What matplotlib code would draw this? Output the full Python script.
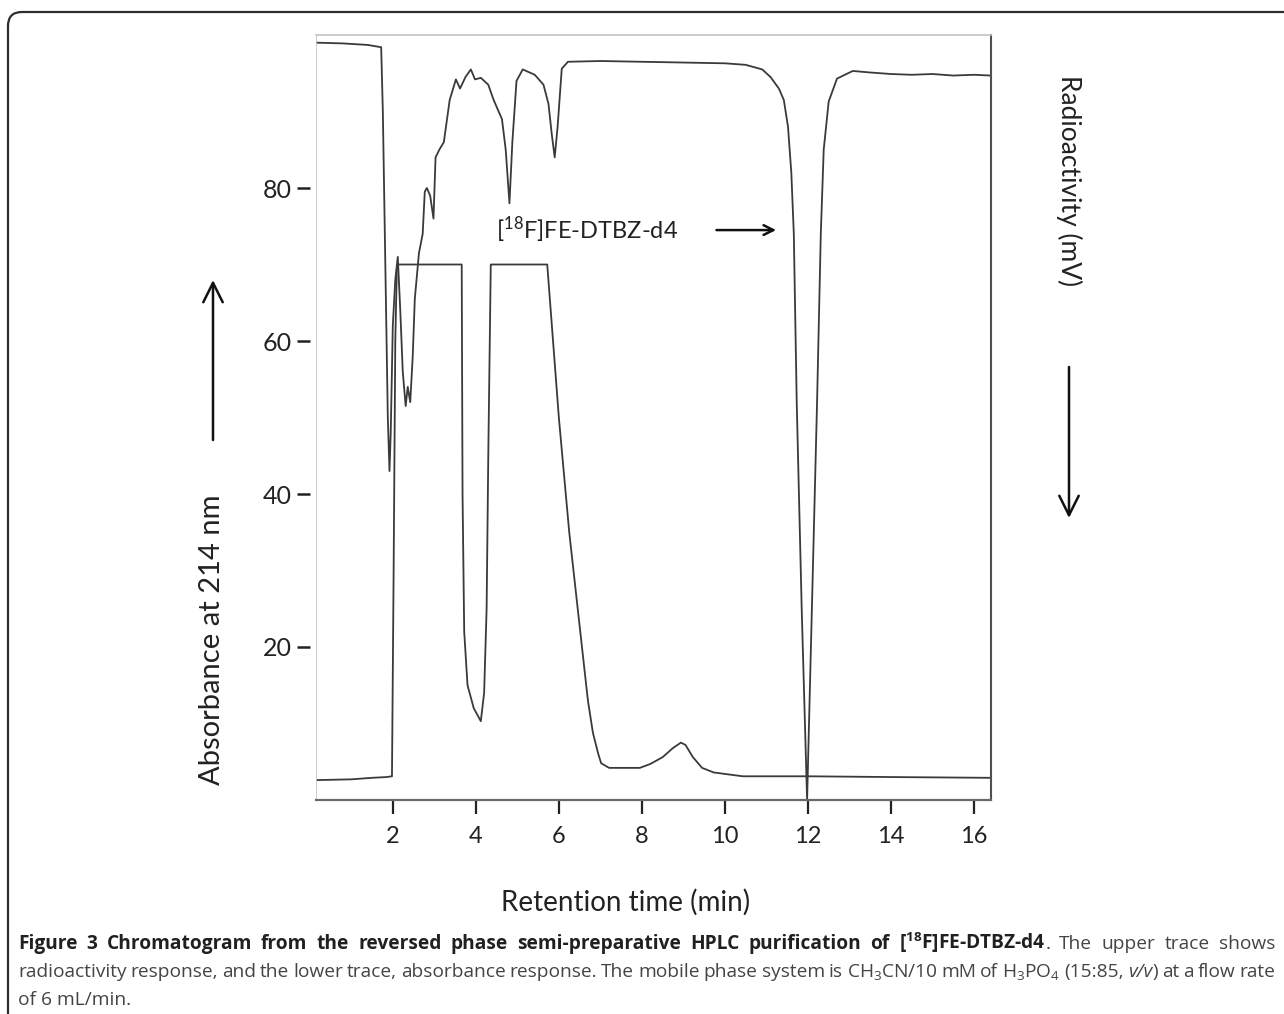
import matplotlib
matplotlib.use('Agg')
import matplotlib.pyplot as plt
from matplotlib.patches import FancyBboxPatch, FancyArrowPatch
from matplotlib.transforms import IdentityTransform

plt.rcParams['font.family'] = ['Lato', 'DejaVu Sans']
plt.rcParams['mathtext.fontset'] = 'custom'
plt.rcParams['mathtext.rm'] = 'Open Sans'
plt.rcParams['mathtext.it'] = 'Open Sans:italic'
plt.rcParams['mathtext.bf'] = 'Open Sans:bold'
plt.rcParams['mathtext.sf'] = 'Lato'

# upper trace: radioactivity (plotted on the same scale as the absorbance)
radio_t = [0.15, 0.8, 1.4, 1.72, 1.76, 1.82, 1.88, 1.92, 1.95, 2.0,
           2.06, 2.12, 2.18, 2.24, 2.31, 2.36, 2.42, 2.48, 2.53, 2.63,
           2.72, 2.77, 2.82, 2.9, 2.98, 3.03, 3.12, 3.23, 3.37, 3.52,
           3.62, 3.75, 3.88, 3.98, 4.12, 4.3, 4.43, 4.63, 4.72, 4.81,
           4.88, 4.98, 5.13, 5.42, 5.63, 5.75, 5.83, 5.9, 5.97, 6.07,
           6.22, 7.0, 8.0, 9.0, 10.0, 10.5, 10.9, 11.1, 11.3, 11.42,
           11.52, 11.6, 11.66, 11.73, 11.85, 11.98, 12.1, 12.22, 12.31, 12.38,
           12.5, 12.7, 13.08, 13.5, 14.0, 14.5, 15.0, 15.5, 16.0, 16.4]
radio_mv = [99.0, 98.9, 98.7, 98.4, 90, 70, 50, 43, 48, 62,
            68, 71, 64, 56, 51.5, 54, 52, 58, 65.5, 71.5,
            74, 79.5, 80, 79, 76, 84, 85, 86, 91.5, 94.2,
            93, 94.5, 95.5, 94.2, 94.4, 93.5, 91.5, 89, 85, 78,
            86, 94, 95.5, 94.8, 93.5, 91, 87, 84, 88, 95.6,
            96.5, 96.6, 96.5, 96.4, 96.3, 96.1, 95.5, 94.5, 93, 91.5,
            88, 82, 74, 52, 25, 0, 26, 52, 74, 85,
            91.3, 94.3, 95.3, 95.1, 94.9, 94.8, 94.9, 94.7, 94.8, 94.7]

# lower trace: absorbance at 214 nm
abs_t = [0.15, 1.0, 1.5, 1.85, 1.98, 2.02, 2.06, 2.1, 3.66, 3.68,
         3.72, 3.8, 3.95, 4.12, 4.2, 4.26, 4.3, 4.36, 5.72, 6.0,
         6.25, 6.52, 6.7, 6.82, 6.95, 7.02, 7.21, 7.6, 7.95, 8.2,
         8.5, 8.75, 8.94, 9.05, 9.23, 9.45, 9.73, 10.43, 12.0, 14.0,
         16.4]
abs_au = [2.6, 2.7, 2.9, 3.0, 3.1, 30, 60, 70, 70, 40,
          22, 15, 12, 10.3, 14, 25, 45, 70, 70, 50,
          35, 21.8, 13, 8.8, 6, 4.8, 4.2, 4.2, 4.2, 4.7,
          5.6, 6.8, 7.5, 7.2, 5.6, 4.2, 3.6, 3.1, 3.1, 3.0,
          2.9]

x_ticks = [2, 4, 6, 8, 10, 12, 14, 16]
y_ticks = [20, 40, 60, 80]

W, H = 1284, 1014
fig = plt.figure(figsize=(W / 100, H / 100), dpi=100)

# frame round the whole figure (runs off right and bottom edge)
frame = FancyBboxPatch((8, -30), 1320, H - 12 + 30,
                       boxstyle='round,pad=0,rounding_size=14',
                       transform=IdentityTransform(), fill=False,
                       ec='#2e2e2e', lw=1.6)
fig.add_artist(frame)

ax = fig.add_axes([316 / W, 1 - 800 / H, (991 - 316) / W, (800 - 35) / H])
trace = '#3a3a3a'
ax.plot(radio_t, radio_mv, color=trace, lw=1.3)
ax.plot(abs_t, abs_au, color=trace, lw=1.3)
ax.set_xlim(0.15, 16.41)
ax.set_ylim(0, 100)

ax.set_xticks(x_ticks)
ax.set_yticks(y_ticks)
ax.tick_params(axis='x', direction='out', length=10, width=1.6, pad=9,
               labelsize=17, colors='#222')
ax.tick_params(axis='y', direction='out', length=9.5, width=1.8, pad=4,
               labelsize=18, colors='#222')

ax.spines['left'].set_position(('outward', 4))
ax.spines['left'].set_visible(False)
ax.axvline(0.15, color='#c4c4c4', lw=1.2)
ax.spines['top'].set_color('#c4c4c4')
ax.spines['top'].set_linewidth(1.2)
ax.spines['right'].set_color('#505050')
ax.spines['right'].set_linewidth(1.5)
ax.spines['bottom'].set_color('#6a6a6a')
ax.spines['bottom'].set_linewidth(1.6)

# peak annotation
ax.text(4.48, 74.5, r'[$^{\mathsf{18}}$F]FE-DTBZ-d4', fontsize=17,
        va='center', ha='left', color='#222')
ax.annotate('', xy=(11.3, 74.5), xytext=(9.73, 74.5),
            arrowprops=dict(arrowstyle='->,head_length=0.7,head_width=0.35',
                            lw=1.8, color='#111'))

# axis titles and direction arrows
fig.text(212 / W, 1 - 640 / H, 'Absorbance at 214 nm', rotation=90,
         fontsize=21, ha='center', va='center', color='#222')
fig.text(626 / W, 1 - 902 / H, 'Retention time (min)', fontsize=20,
         ha='center', va='center', color='#222')
fig.text(1069 / W, 1 - 181 / H, 'Radioactivity (mV)', rotation=-90,
         fontsize=19, ha='center', va='center', color='#222')
for y0, y1 in [(440, 280), (367, 518)]:
    x = 213 if y1 < y0 else 1069
    fig.add_artist(FancyArrowPatch(
        (x / W, 1 - y0 / H), (x / W, 1 - y1 / H), transform=fig.transFigure,
        arrowstyle='->,head_length=0.7,head_width=0.35', mutation_scale=20,
        lw=1.8, color='#111', shrinkA=0, shrinkB=0))

# caption, justified word by word
cap_font = ['Open Sans', 'DejaVu Sans']
B = {'fontweight': 'bold', 'color': '#231f20'}
N = {'color': '#444444'}
I = {'fontstyle': 'italic', 'color': '#444444'}

line1 = [[('Figure', B)], [('3', B)], [('Chromatogram', B)], [('from', B)],
         [('the', B)], [('reversed', B)], [('phase', B)],
         [('semi-preparative', B)], [('HPLC', B)], [('purification', B)],
         [('of', B)], [(r'[$^{\mathbf{18}}$F]FE-DTBZ-d4', B), ('.', N)],
         [('The', N)], [('upper', N)], [('trace', N)], [('shows', N)]]
line2 = [[('radioactivity', N)], [('response,', N)], [('and', N)], [('the', N)],
         [('lower', N)], [('trace,', N)], [('absorbance', N)],
         [('response.', N)], [('The', N)], [('mobile', N)], [('phase', N)],
         [('system', N)], [('is', N)], [(r'CH$_{\mathrm{3}}$CN/10', N)],
         [('mM', N)], [('of', N)], [(r'H$_{\mathrm{3}}$PO$_{\mathrm{4}}$', N)],
         [('(15:85,', N)], [('v/v', I), (')', N)], [('at', N)], [('a', N)],
         [('flow', N)], [('rate', N)]]

renderer = fig.canvas.get_renderer()


def put_line(words, y, x0, x1, size):
    items = []
    for word in words:
        segs = []
        for s, kw in word:
            t = fig.text(0, y, s, fontsize=size, family=cap_font,
                         va='baseline', transform=IdentityTransform(), **kw)
            segs.append((t, t.get_window_extent(renderer).width))
        items.append(segs)
    total = sum(w for segs in items for _, w in segs)
    gap = (x1 - x0 - total) / (len(items) - 1)
    x = x0
    for segs in items:
        for t, w in segs:
            t.set_x(x)
            x += w
        x += gap


put_line(line1, H - 949, 18, 1275, 13.8)
put_line(line2, H - 977, 18, 1275, 13.8)
fig.text(18, H - 1005, 'of 6 mL/min.', fontsize=13.8, family=cap_font,
         va='baseline', transform=IdentityTransform(), **N)

fig.savefig('out.png', dpi=100)
